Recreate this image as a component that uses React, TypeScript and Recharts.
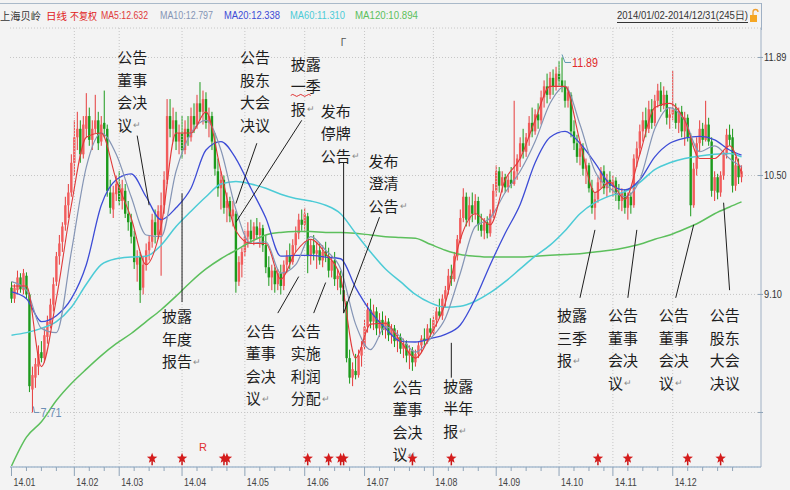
import React from "react";
import {
  ComposedChart,
  Bar,
  Line,
  XAxis,
  YAxis,
  CartesianGrid,
  ReferenceLine,
  ReferenceDot,
} from "recharts";

const W = 790;
const H = 490;
const BG = "#f3f3f3";
const RED = "#f25c5c";
const RED_WICK = "#e63c3c";
const GREEN = "#1c9a1c";
const CJK = "'Noto Sans CJK SC', 'Noto Sans', sans-serif";
const NARROW = "'Liberation Sans', Arial, sans-serif";

// daily candles 2014, [open, high, low, close]
const candles: number[][] = [
  // Jan
  [9.18, 9.25, 9.0, 9.05], [9.05, 9.22, 9.0, 9.18], [9.15, 9.38, 9.1, 9.3], [9.3, 9.35, 9.12, 9.16], [9.15, 9.4, 9.1, 9.35],
  [9.32, 9.36, 9.05, 9.1], [9.1, 9.12, 7.95, 8.02], [7.98, 8.25, 7.71, 8.15], [8.12, 8.35, 8.0, 8.28], [8.25, 8.5, 8.15, 8.4],
  [8.42, 8.55, 8.3, 8.35], [8.35, 8.7, 8.3, 8.62], [8.6, 8.85, 8.52, 8.78], [8.75, 9.05, 8.7, 8.98], [8.98, 9.3, 8.9, 9.22],
  [9.25, 9.6, 9.2, 9.55], [9.55, 9.8, 9.45, 9.7], [9.72, 9.95, 9.6, 9.9], [9.92, 10.25, 9.85, 10.15], [10.15, 10.4, 10.0, 10.3],
  [10.3, 10.75, 10.25, 10.65],
  // Feb
  [10.65, 11.15, 10.5, 10.95], [10.95, 11.25, 10.8, 11.05], [11.05, 11.15, 10.65, 10.75], [10.75, 11.2, 10.7, 11.1], [11.05, 11.47, 10.95, 11.2],
  [11.2, 11.3, 10.85, 10.92], [10.92, 11.15, 10.8, 11.05], [11.05, 11.45, 11.0, 11.15], [11.15, 11.25, 10.8, 10.88], [10.9, 11.2, 10.85, 11.1],
  [11.12, 11.5, 10.95, 11.05], [11.05, 11.1, 10.25, 10.32], [10.3, 10.45, 10.05, 10.12], [10.1, 10.38, 10.0, 10.3], [10.28, 10.5, 10.2, 10.4],
  // Mar
  [10.4, 10.55, 10.15, 10.2], [10.2, 10.45, 10.1, 10.35], [10.32, 10.4, 10.0, 10.05], [10.05, 10.2, 9.85, 9.95], [9.95, 10.05, 9.7, 9.78],
  [9.78, 9.85, 9.4, 9.48], [9.45, 9.62, 9.25, 9.55], [9.55, 9.6, 9.0, 9.15], [9.18, 9.55, 9.1, 9.45], [9.45, 9.7, 9.38, 9.62],
  [9.62, 9.8, 9.5, 9.72], [9.72, 10.05, 9.65, 9.98], [9.95, 10.1, 9.7, 9.8], [9.8, 10.15, 9.75, 10.08], [9.8, 10.3, 9.32, 10.15],
  [10.15, 10.55, 10.05, 10.45], [10.45, 11.4, 10.4, 11.2], [11.2, 11.4, 10.95, 11.05], [11.05, 11.3, 10.9, 11.15], [11.15, 11.25, 10.8, 10.9],
  [10.9, 11.1, 10.75, 11.0],
  // Apr
  [11.0, 11.2, 10.7, 10.8], [10.8, 11.15, 10.75, 11.05], [11.05, 11.2, 10.85, 10.95], [10.95, 11.3, 10.9, 11.2], [11.2, 11.35, 11.0, 11.1],
  [11.1, 11.45, 11.05, 11.35], [11.35, 11.6, 11.15, 11.25], [11.25, 11.5, 11.1, 11.4], [11.4, 11.48, 11.05, 11.12], [11.12, 11.3, 10.95, 11.2],
  [11.2, 11.25, 10.8, 10.9], [10.9, 11.0, 10.5, 10.58], [10.55, 10.7, 10.25, 10.35], [10.35, 10.55, 10.1, 10.45], [10.45, 10.5, 10.05, 10.12],
  [10.12, 10.3, 9.95, 10.2], [10.2, 10.25, 9.95, 10.02], [10.02, 10.2, 9.9, 10.1], [10.05, 10.08, 9.12, 9.25], [9.25, 9.55, 9.2, 9.48],
  [9.45, 9.65, 9.3, 9.6],
  // May
  [9.6, 9.85, 9.55, 9.78], [9.78, 9.95, 9.65, 9.85], [9.85, 9.98, 9.7, 9.75], [9.75, 9.95, 9.68, 9.9], [9.9, 10.0, 9.75, 9.8],
  [9.8, 9.95, 9.65, 9.88], [9.88, 9.92, 9.6, 9.68], [9.68, 9.8, 9.35, 9.42], [9.42, 9.55, 9.2, 9.3], [9.3, 9.45, 9.15, 9.38],
  [9.38, 9.42, 9.12, 9.22], [9.22, 9.4, 9.15, 9.35], [9.35, 9.45, 9.1, 9.2], [9.2, 9.5, 9.15, 9.45], [9.45, 9.62, 9.35, 9.55],
  [9.55, 9.7, 9.4, 9.48], [9.48, 9.75, 9.45, 9.68], [9.68, 9.9, 9.6, 9.82], [9.82, 10.05, 9.75, 9.98], [9.98, 10.1, 9.85, 9.92],
  // Jun
  [9.92, 10.12, 9.85, 10.05], [10.02, 10.06, 9.35, 9.55], [9.55, 9.75, 9.45, 9.68], [9.68, 9.8, 9.5, 9.58], [9.58, 9.72, 9.4, 9.62],
  [9.62, 9.7, 9.45, 9.5], [9.5, 9.68, 9.42, 9.6], [9.6, 9.72, 9.48, 9.55], [9.55, 9.65, 9.3, 9.38], [9.38, 9.55, 9.3, 9.5],
  [9.5, 9.6, 9.2, 9.28], [9.28, 9.4, 9.15, 9.32], [9.32, 9.38, 9.1, 9.18], [9.15, 9.2, 8.95, 9.02], [9.0, 9.02, 8.3, 8.35],
  [8.35, 8.45, 8.05, 8.12], [8.12, 8.3, 8.02, 8.22], [8.2, 8.4, 8.1, 8.15], [8.15, 8.45, 8.12, 8.38], [8.38, 8.55, 8.25, 8.48],
  // Jul
  [8.48, 8.8, 8.45, 8.72], [8.72, 9.0, 8.65, 8.92], [8.92, 9.05, 8.7, 8.78], [8.78, 8.98, 8.68, 8.9], [8.9, 8.95, 8.62, 8.7],
  [8.7, 8.88, 8.6, 8.8], [8.8, 8.9, 8.62, 8.68], [8.68, 8.85, 8.58, 8.78], [8.78, 8.82, 8.55, 8.62], [8.62, 8.75, 8.52, 8.7],
  [8.7, 8.74, 8.48, 8.55], [8.55, 8.68, 8.42, 8.6], [8.6, 8.64, 8.4, 8.46], [8.46, 8.58, 8.35, 8.52], [8.52, 8.56, 8.3, 8.38],
  [8.38, 8.5, 8.22, 8.44], [8.44, 8.48, 8.2, 8.3], [8.3, 8.45, 8.25, 8.4], [8.4, 8.55, 8.35, 8.5], [8.5, 8.62, 8.42, 8.58],
  [8.58, 8.7, 8.5, 8.55], [8.55, 8.75, 8.52, 8.7], [8.7, 8.82, 8.6, 8.65],
  // Aug
  [8.65, 8.85, 8.62, 8.8], [8.8, 8.95, 8.72, 8.9], [8.9, 9.05, 8.82, 8.85], [8.85, 9.1, 8.8, 9.05], [9.05, 9.2, 8.95, 9.15],
  [9.15, 9.4, 9.1, 9.32], [9.32, 9.45, 9.2, 9.28], [9.28, 9.6, 9.25, 9.55], [9.55, 9.8, 9.5, 9.75], [9.75, 10.1, 9.7, 10.0],
  [10.0, 10.35, 9.95, 10.25], [10.25, 10.3, 9.9, 9.98], [9.98, 10.25, 9.9, 10.15], [10.15, 10.3, 9.95, 10.05], [10.05, 10.28, 9.98, 10.2],
  [10.2, 10.25, 9.85, 9.92], [9.92, 10.05, 9.78, 9.85], [9.85, 10.0, 9.75, 9.95], [9.95, 10.02, 9.76, 9.82], [9.82, 10.1, 9.78, 10.05],
  [10.05, 10.4, 10.0, 10.32],
  // Sep
  [10.32, 10.62, 10.25, 10.55], [10.55, 10.6, 10.3, 10.38], [10.38, 10.55, 10.3, 10.48], [10.48, 10.52, 10.3, 10.36], [10.36, 10.5, 10.3, 10.45],
  [10.45, 10.6, 10.35, 10.4], [10.4, 11.38, 10.38, 10.55], [10.55, 10.75, 10.45, 10.7], [10.7, 10.95, 10.6, 10.88], [10.88, 11.05, 10.7, 10.78],
  [10.78, 11.0, 10.72, 10.95], [10.95, 11.2, 10.85, 11.12], [11.12, 11.3, 10.95, 11.02], [11.02, 11.28, 10.98, 11.22], [11.22, 11.35, 11.05, 11.15],
  [11.15, 11.5, 11.1, 11.42], [11.42, 11.62, 11.3, 11.55], [11.55, 11.7, 11.35, 11.45], [11.45, 11.72, 11.4, 11.65], [11.65, 11.75, 11.45, 11.55],
  [11.55, 11.78, 11.5, 11.7],
  // Oct
  [11.7, 11.85, 11.55, 11.62], [11.62, 11.89, 11.48, 11.55], [11.55, 11.62, 11.3, 11.38], [11.38, 11.55, 11.3, 11.48], [11.45, 11.48, 10.95, 11.02],
  [11.02, 11.15, 10.8, 10.88], [10.88, 10.98, 10.65, 10.72], [10.72, 10.9, 10.62, 10.82], [10.82, 10.88, 10.5, 10.58], [10.58, 10.7, 10.4, 10.62],
  [10.62, 10.65, 10.3, 10.35], [10.35, 10.45, 10.05, 10.12], [10.12, 10.3, 9.98, 10.22], [10.22, 10.48, 10.18, 10.42], [10.42, 10.6, 10.35, 10.55],
  [10.55, 10.62, 10.28, 10.35], [10.35, 10.52, 10.25, 10.45], [10.45, 10.55, 10.3, 10.38],
  // Nov
  [10.38, 10.5, 10.25, 10.44], [10.44, 10.48, 10.2, 10.28], [10.28, 10.4, 10.1, 10.2], [10.2, 10.35, 10.08, 10.3], [10.3, 10.34, 10.05, 10.12],
  [10.12, 10.3, 9.98, 10.25], [10.25, 10.3, 10.05, 10.15], [10.15, 10.75, 10.12, 10.7], [10.7, 10.9, 10.6, 10.82], [10.82, 11.1, 10.75, 11.02],
  [11.02, 11.25, 10.9, 11.15], [11.15, 11.3, 10.95, 11.05], [11.05, 11.38, 11.0, 11.28], [11.28, 11.4, 11.05, 11.12], [11.12, 11.45, 11.08, 11.38],
  [11.38, 11.58, 11.3, 11.5], [11.5, 11.6, 11.25, 11.32], [11.32, 11.55, 11.28, 11.45], [11.45, 11.5, 11.1, 11.18], [11.18, 11.3, 11.05, 11.22],
  // Dec
  [11.22, 11.73, 11.15, 11.28], [11.28, 11.35, 11.05, 11.12], [11.12, 11.3, 11.0, 11.25], [11.25, 11.32, 10.95, 11.02], [11.02, 11.25, 10.85, 11.18],
  [11.18, 11.22, 10.9, 10.95], [10.95, 11.0, 10.02, 10.15], [10.15, 10.65, 10.12, 10.58], [10.58, 10.95, 10.5, 10.88], [10.88, 11.15, 10.78, 11.05],
  [11.05, 11.12, 10.85, 10.92], [10.92, 11.38, 10.9, 11.1], [11.1, 11.18, 10.85, 10.9], [10.9, 10.95, 10.25, 10.32], [10.32, 10.55, 10.2, 10.48],
  [10.48, 10.52, 10.22, 10.3], [10.3, 10.55, 10.25, 10.5], [10.5, 10.8, 10.45, 10.75], [10.75, 11.05, 10.7, 10.98], [10.98, 11.1, 10.85, 10.92],
  [10.95, 11.05, 10.3, 10.38], [10.38, 10.72, 10.32, 10.62], [10.62, 10.7, 10.4, 10.48], [10.48, 10.62, 10.42, 10.55],
];

// moving averages every 5 sessions
const maIdx = [
  0, 5, 10, 15, 20, 25, 30, 35, 40, 45, 50, 55, 60, 65, 70, 75, 80, 85, 90, 95, 100, 105, 110, 115, 120,
  125, 130, 135, 140, 145, 150, 155, 160, 165, 170, 175, 180, 185, 190, 195, 200, 205, 210, 215, 220,
  225, 230, 235, 240, 244,
];
const ma5 = [
  9.2, 9.2, 8.25, 9.05, 10.15, 10.95, 11.0, 10.45, 10.0, 9.45, 9.9, 11.0, 11.0, 11.25, 10.55, 9.85, 9.7, 9.7, 9.28, 9.6,
  9.75, 9.58, 9.3, 8.35, 8.75, 8.76, 8.55, 8.35, 8.62, 9.0, 9.75, 10.05, 9.92, 10.45, 10.7, 11.15, 11.55, 11.55, 10.9, 10.3,
  10.42, 10.22, 10.75, 11.3, 11.35, 11.15, 10.7, 10.7, 10.85, 10.52,
];
const ma10 = [
  9.25, 9.15, 8.7, 8.65, 9.6, 10.6, 11.0, 10.75, 10.25, 9.8, 9.78, 10.55, 11.0, 11.15, 10.8, 10.1, 9.7, 9.72, 9.35, 9.45,
  9.78, 9.62, 9.4, 8.75, 8.45, 8.72, 8.6, 8.42, 8.58, 8.82, 9.35, 9.9, 10.0, 10.3, 10.55, 10.9, 11.35, 11.55, 11.1, 10.55,
  10.35, 10.25, 10.45, 11.05, 11.3, 11.15, 10.78, 10.85, 10.7, 10.6,
];
const ma20 = [
  9.13, 9.05, 8.78, 8.85, 9.05, 9.45, 10.15, 10.45, 10.52, 10.25, 9.98, 10.12, 10.35, 10.8, 10.9, 10.7, 10.35, 10.0, 9.55, 9.56,
  9.56, 9.54, 9.52, 9.18, 8.9, 8.7, 8.55, 8.54, 8.58, 8.63, 8.74, 9.05, 9.45, 9.82, 10.16, 10.65, 10.95, 11.02, 10.88, 10.65,
  10.4, 10.33, 10.45, 10.72, 10.88, 10.94, 10.96, 10.92, 10.8, 10.74,
];
const ma60 = [
  8.62, 8.65, 8.7, 8.78, 8.95, 9.22, 9.45, 9.52, 9.54, 9.55, 9.68, 9.9, 10.08, 10.25, 10.4, 10.43, 10.4, 10.35, 10.28, 10.23,
  10.2, 10.15, 10.05, 9.82, 9.6, 9.4, 9.25, 9.1, 9.0, 8.95, 8.96, 9.02, 9.12, 9.25, 9.4, 9.55, 9.68, 9.85, 10.05, 10.18,
  10.26, 10.31, 10.42, 10.57, 10.65, 10.7, 10.73, 10.75, 10.76, 10.72,
];
const ma120 = [
  7.08, 7.42, 7.6, 7.85, 8.05, 8.22, 8.38, 8.52, 8.64, 8.78, 8.92, 9.08, 9.25, 9.4, 9.52, 9.62, 9.72, 9.8, 9.83, 9.84,
  9.84, 9.83, 9.83, 9.82, 9.8, 9.78, 9.77, 9.76, 9.69, 9.62, 9.57, 9.55, 9.54, 9.54, 9.54, 9.55, 9.56, 9.57, 9.58, 9.6,
  9.62, 9.65, 9.69, 9.75, 9.8, 9.87, 9.95, 10.05, 10.13, 10.19,
];

const monthStarts = [0, 21, 36, 57, 78, 98, 118, 141, 162, 183, 201, 221];
const monthLabels = ["14.01", "14.02", "14.03", "14.04", "14.05", "14.06", "14.07", "14.08", "14.09", "14.10", "14.11", "14.12"];
const yTicks = [7.71, 9.1, 10.5, 11.89];
const yLabels = ["", "9.10", "10.50", "11.89"];

// event stars along the bottom
const starIdx = [47, 57, 71, 72, 99, 106, 110, 111, 134, 147, 196, 206, 226, 237];

const notes = [
  { lines: ["公告", "董事", "会决", "议"], ret: true },
  { lines: ["披露", "年度", "报告"], ret: true },
  { lines: ["公告", "股东", "大会", "决议"], ret: false },
  { lines: ["披露", "一季", "报"], ret: true },
  { lines: ["发布", "停牌", "公告"], ret: true },
  { lines: ["发布", "澄清", "公告"], ret: true },
  { lines: ["公告", "董事", "会决", "议"], ret: true },
  { lines: ["公告", "实施", "利润", "分配"], ret: true },
  { lines: ["公告", "董事", "会决", "议"], ret: true },
  { lines: ["披露", "半年", "报"], ret: true },
  { lines: ["披露", "三季", "报"], ret: true },
  { lines: ["公告", "董事", "会决", "议"], ret: true },
  { lines: ["公告", "董事", "会决", "议"], ret: true },
  { lines: ["公告", "股东", "大会", "决议"], ret: false },
];

// layout: where each note sits and its leader line, in (session, price)
const noteAt = [
  [36, 11.9], [51, 8.85], [77, 11.9], [94, 11.82], [104, 11.27], [120, 10.68], [79, 8.68],
  [94, 8.68], [128, 8.02], [145, 8.03], [183, 8.86], [200, 8.86], [217, 8.86], [234, 8.86],
];
const leaders = [
  [42, 10.97, 46, 10.15], [57, 10.29, 57, 9.01], [82, 10.88, 75, 10.17], [97, 11.15, 75, 9.95],
  [111, 10.65, 111, 8.88], [123, 10.01, 111, 8.88], [89, 8.88, 96, 9.31], [101, 8.88, 105, 9.24],
  null, [147, 8.53, 147, 8.12], [190, 9.06, 195, 9.86], [206, 9.06, 209, 9.86], [222, 9.06, 228, 9.92],
  [240, 9.15, 238, 10.18],
];

const Y_MIN = 7.068;
const Y_MAX = 12.237;
const STAR_LEVEL = 7.17;
const N = 251;

const minorTicks: number[] = [];
monthStarts.forEach((s, k) => {
  const end = k + 1 < monthStarts.length ? monthStarts[k + 1] : 245;
  for (let t = s + 5; t < end - 2; t += 5) minorTicks.push(t);
});
const xTicks = [...monthStarts, ...minorTicks].sort((a, b) => a - b);

const rows = Array.from({ length: N }, (_, i) => {
  const r: any = { i };
  if (i < candles.length) {
    const [o, h, l, c] = candles[i];
    Object.assign(r, { o, h, l, c });
  }
  const m = maIdx.indexOf(i);
  if (m >= 0) {
    r.ma5 = ma5[m];
    r.ma10 = ma10[m];
    r.ma20 = ma20[m];
    r.ma60 = ma60[m];
    r.ma120 = ma120[m];
  }
  return r;
});

const Candle = (props: any) => {
  const { x, y, width, height, payload } = props;
  if (!payload || payload.h == null) return <g />;
  const { o, h, l, c } = payload;
  const top = Math.min(y, y + height);
  const k = h > l ? Math.abs(height) / (h - l) : 0;
  const py = (v: number) => top + (h - v) * k;
  const cx = x + width / 2;
  const up = c >= o;
  const bTop = py(Math.max(o, c));
  const bH = Math.max(1, py(Math.min(o, c)) - bTop);
  return (
    <g>
      <line x1={cx} x2={cx} y1={py(h)} y2={py(l)} stroke={up ? RED_WICK : GREEN} strokeWidth={1} />
      <rect x={cx - 1.2} y={bTop} width={2.4} height={bH} fill={up ? RED : GREEN} />
    </g>
  );
};

const XTick = (props: any) => {
  const { x, y, payload } = props;
  const k = monthStarts.indexOf(payload.value);
  if (k < 0) {
    return <line x1={x} x2={x} y1={y} y2={y + 4} stroke="#8fa4b8" />;
  }
  return (
    <g>
      <line x1={x} x2={x} y1={y} y2={y + 9} stroke="#8fa4b8" />
      <text x={x + 2} y={y + 15} fontSize={11} fontFamily={NARROW} fill="#444" dominantBaseline="central"
        textLength={22} lengthAdjust="spacingAndGlyphs">
        {monthLabels[k]}
      </text>
    </g>
  );
};

const YTick = (props: any) => {
  const { x, y, payload } = props;
  const k = yTicks.indexOf(payload.value);
  const label = k >= 0 ? yLabels[k] : "";
  return (
    <g>
      <line x1={x - 3} x2={x + 2} y1={y} y2={y} stroke="#8fa4b8" />
      {label ? (
        <text x={x + 3} y={y} fontSize={10} fontFamily={NARROW} fill="#333" dominantBaseline="central"
          textLength={label.length * 4.5} lengthAdjust="spacingAndGlyphs">
          {label}
        </text>
      ) : null}
    </g>
  );
};

const Star = (p: any) => {
  const { cx, cy } = p;
  const pts: string[] = [];
  for (let k = 0; k < 10; k++) {
    const r = k % 2 === 0 ? 5.5 : 2.4;
    const a = -Math.PI / 2 + (k * Math.PI) / 5;
    pts.push(`${cx + r * Math.cos(a)},${cy + r * Math.sin(a)}`);
  }
  return (
    <g>
      <line x1={cx} x2={cx} y1={cy} y2={cy + 7} stroke="#c81818" strokeWidth={1.5} />
      <polygon points={pts.join(" ")} fill="#d41c1c" />
    </g>
  );
};

const NoteText = ({ cx, cy, lines, ret, wavy }: any) => (
  <g>
    {lines.map((t: string, k: number) => (
      <text key={k} x={cx - 2} y={cy + k * 22.5} fontSize={15} fontFamily={CJK} fill="#1e1e1e" dominantBaseline="central">
        {t}
        {ret && k === lines.length - 1 ? (
          <tspan fontSize={9} fill="#8a8a8a" dx={1}>↵</tspan>
        ) : null}
      </text>
    ))}
    {wavy ? (
      <path d={`M${cx - 2},${cy + 32} q2,-2 4,0 t4,0 t4,0 t4,0 t4,0`} stroke="#e03030" fill="none" strokeWidth={1} />
    ) : null}
  </g>
);

const HighMark = (p: any) => (
  <g>
    <path d={`M${p.cx},${p.cy - 3} L${p.cx + 3},${p.cy + 5} L${p.cx + 9},${p.cy + 5}`} stroke="#5f98b0" fill="none" />
    <text x={p.cx + 10} y={p.cy + 6} fontSize={12} fontFamily={NARROW} fill="#e02a2a" dominantBaseline="central"
      textLength={26} lengthAdjust="spacingAndGlyphs">
      11.89
    </text>
  </g>
);

const LowMark = (p: any) => (
  <g>
    <path d={`M${p.cx + 1},${p.cy - 6} L${p.cx + 2},${p.cy} L${p.cx + 7},${p.cy}`} stroke="#6d8fb5" fill="none" />
    <text x={p.cx + 8} y={p.cy + 1} fontSize={12} fontFamily={NARROW} fill="#6d8fb5" dominantBaseline="central"
      textLength={21} lengthAdjust="spacingAndGlyphs">
      7.71
    </text>
  </g>
);

const headerItems = [
  { t: "上海贝岭", x: 0, w: 41, c: "#333", cjk: true },
  { t: "日线", x: 46, w: 21, c: "#e02020", cjk: true },
  { t: "不复权", x: 70, w: 27, c: "#e02020", cjk: true },
  { t: "MA5:12.632", x: 101, w: 47, c: "#e03a3a" },
  { t: "MA10:12.797", x: 160, w: 53, c: "#8595b5" },
  { t: "MA20:12.338", x: 224, w: 56, c: "#3d4cd6" },
  { t: "MA60:11.310", x: 290, w: 55, c: "#4ccbd6" },
  { t: "MA120:10.894", x: 355, w: 63, c: "#5cbf5c" },
];

export default function App() {
  return (
    <div style={{ position: "absolute", left: 0, top: 0, width: W, height: H, background: BG, overflow: "hidden" }}>
      <ComposedChart width={W} height={H} data={rows} margin={{ top: 28, right: 0, bottom: 0, left: 10 }}
        barCategoryGap={0} barGap={0}>
        <CartesianGrid vertical={false} stroke="#c6c6c6" strokeDasharray="1 2" />
        <XAxis dataKey="i" type="category" height={23} ticks={xTicks} interval={0} tickSize={0} tickMargin={0}
          tickLine={false} axisLine={{ stroke: "#a9bdd0", strokeWidth: 1.5 }} tick={<XTick />} />
        <YAxis orientation="right" width={29} domain={[Y_MIN, Y_MAX]} ticks={yTicks} allowDataOverflow
          tickSize={0} tickMargin={0} tickLine={false} axisLine={{ stroke: "#9fb0c4" }} tick={<YTick />} />
        {monthStarts.slice(1).map((m) => (
          <ReferenceLine key={`g${m}`} x={m} stroke="#c6c6c6" strokeDasharray="1 2" />
        ))}
        <Line dataKey="ma120" stroke="#5cbf5c" strokeWidth={1.5} dot={false} connectNulls type="monotone" isAnimationActive={false} />
        <Line dataKey="ma60" stroke="#4ccbd6" strokeWidth={1.5} dot={false} connectNulls type="monotone" isAnimationActive={false} />
        <Bar dataKey={(d: any) => (d.h == null ? null : [d.l, d.h])} shape={Candle} isAnimationActive={false} />
        <Line dataKey="ma20" stroke="#3d4cd6" strokeWidth={1.3} dot={false} connectNulls type="monotone" isAnimationActive={false} />
        <Line dataKey="ma10" stroke="#8595b5" strokeWidth={1.2} dot={false} connectNulls type="monotone" isAnimationActive={false} />
        <Line dataKey="ma5" stroke="#e03a3a" strokeWidth={1.1} dot={false} connectNulls type="monotone" isAnimationActive={false} />
        {leaders.map((s, k) =>
          s ? (
            <ReferenceLine key={`l${k}`} segment={[{ x: s[0], y: s[1] }, { x: s[2], y: s[3] }]} stroke="#1e1e1e"
              strokeWidth={1} ifOverflow="visible" />
          ) : null
        )}
        {notes.map((n, k) => (
          <ReferenceDot key={`n${k}`} x={noteAt[k][0]} y={noteAt[k][1]} ifOverflow="visible"
            shape={(p: any) => <NoteText cx={p.cx} cy={p.cy} lines={n.lines} ret={n.ret} wavy={k === 3} />} />
        ))}
        {starIdx.map((s) => (
          <ReferenceDot key={`s${s}`} x={s} y={STAR_LEVEL} ifOverflow="visible" shape={Star} />
        ))}
        <ReferenceDot x={184} y={11.89} ifOverflow="visible" shape={HighMark} />
        <ReferenceDot x={7} y={7.71} ifOverflow="visible" shape={LowMark} />
        <ReferenceDot x={64} y={7.3} ifOverflow="visible"
          shape={(p: any) => (
            <text x={p.cx} y={p.cy} fontSize={11} fontFamily={NARROW} fill="#e03030" textAnchor="middle" dominantBaseline="central">R</text>
          )} />
        <ReferenceDot x={111} y={12.07} ifOverflow="visible"
          shape={(p: any) => (
            <text x={p.cx} y={p.cy} fontSize={10} fontFamily={NARROW} fill="#555" textAnchor="middle" dominantBaseline="central">Γ</text>
          )} />
      </ComposedChart>
      <svg width={W} height={30} style={{ position: "absolute", left: 0, top: 0 }}>
        <line x1={0} x2={762} y1={3.5} y2={3.5} stroke="#a9b9c9" />
        <line x1={761.5} x2={761.5} y1={3} y2={30} stroke="#9fb0c4" />
        {headerItems.map((h) => (
          <text key={h.t} x={h.x} y={15} fontSize={h.cjk ? 10 : 10.5} fontFamily={h.cjk ? CJK : NARROW} fill={h.c}
            dominantBaseline="central" textLength={h.w} lengthAdjust="spacingAndGlyphs">
            {h.t}
          </text>
        ))}
        <text x={617} y={15} fontSize={10.5} fontFamily={NARROW} fill="#333" dominantBaseline="central"
          textLength={131} lengthAdjust="spacingAndGlyphs">
          2014/01/02-2014/12/31(245日)
        </text>
        <line x1={617} x2={748} y1={22.5} y2={22.5} stroke="#333" />
        <path d="M753,15 v-3 a2.5,2.5 0 0 1 5,0" stroke="#f0a030" fill="none" strokeWidth={1.3} />
        <rect x={750} y={15} width={7} height={7} fill="#f5a623" />
      </svg>
    </div>
  );
}
